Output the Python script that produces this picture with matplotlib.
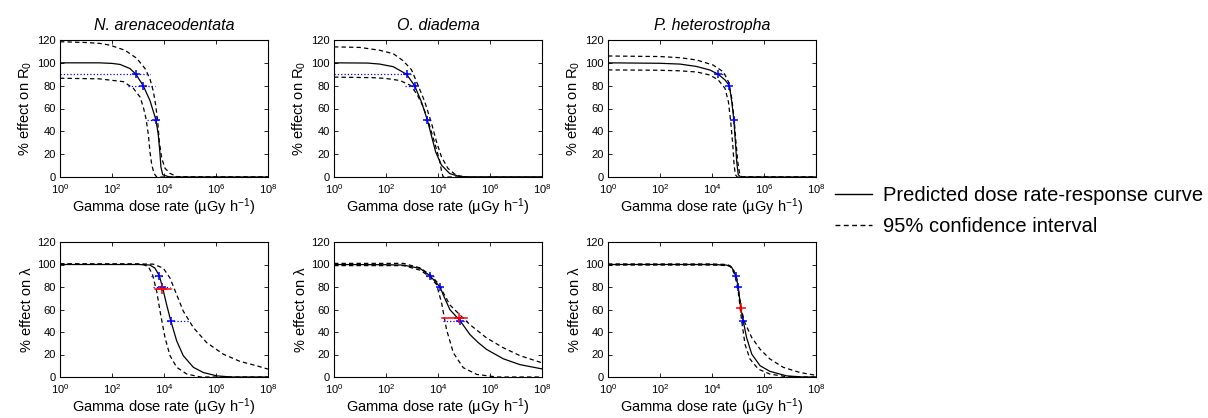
import matplotlib
matplotlib.use("Agg")
import matplotlib.pyplot as plt
from matplotlib.lines import Line2D
from matplotlib.ticker import NullLocator
import numpy as np

plt.rcParams['font.family'] = ['Liberation Sans', 'DejaVu Sans']
plt.rcParams['mathtext.fontset'] = 'custom'
plt.rcParams['mathtext.rm'] = 'Liberation Sans'
plt.rcParams['mathtext.it'] = 'Liberation Sans:italic'
plt.rcParams['mathtext.bf'] = 'Liberation Sans:bold'

species = ['N. arenaceodentata', 'O. diadema', 'P. heterostropha']
ylabels = ['% effect on R$_0$', '% effect on \u03bb']

# curves: (log10 dose rate, % effect)
# --- R0 row ---
na_r0_fit = [(0, 100), (1.5, 100), (2.0, 99.5), (2.31, 98.6), (2.69, 95), (2.92, 90), (3.2, 80),
             (3.46, 67), (3.69, 50), (3.78, 37), (3.84, 22), (3.88, 9), (3.95, 2), (4.2, 0), (8, 0)]
na_r0_up = [(0, 118.5), (1.0, 117.8), (1.54, 117), (1.92, 115.5), (2.5, 111), (2.95, 104), (3.27, 95),
            (3.46, 86), (3.59, 75), (3.68, 63), (3.76, 48), (3.82, 31), (3.91, 16.6), (4.04, 7.6),
            (4.23, 3.2), (4.49, 0.4), (5.0, 0), (8, 0)]
na_r0_lo = [(0, 86.5), (1.5, 86), (2.44, 83.5), (2.82, 77.7), (3.08, 70), (3.2, 61.6), (3.31, 51),
            (3.4, 36.8), (3.46, 22), (3.53, 10.5), (3.62, 3), (3.72, 0), (8, 0)]

od_r0_fit = [(0, 100), (1.3, 99.8), (1.76, 98.9), (2.28, 96.6), (2.79, 90), (3.1, 80), (3.36, 66),
             (3.59, 50), (3.74, 36.8), (3.91, 22), (4.13, 10.5), (4.45, 3), (4.83, 0.4), (5.3, 0), (8, 0)]
od_r0_up = [(0, 114), (1.0, 113.5), (1.76, 111), (2.28, 108), (2.65, 102), (2.98, 94), (3.23, 80.5),
            (3.49, 66), (3.74, 48), (3.94, 31), (4.13, 17.8), (4.38, 7.6), (4.7, 1.5), (5.1, 0), (8, 0)]
od_r0_lo = [(0, 87.5), (1.5, 87), (2.0, 86.3), (2.54, 84.5), (2.92, 80.5), (3.18, 73), (3.43, 61.6),
            (3.63, 48.4), (3.82, 34), (3.97, 22), (4.07, 13.4), (4.14, 4.6), (4.2, 0), (8, 0)]

ph_r0_fit = [(0, 100), (2.0, 99.6), (2.77, 98.9), (3.41, 96.8), (3.92, 93.7), (4.24, 90), (4.5, 85),
             (4.67, 80), (4.76, 66), (4.84, 50), (4.9, 31), (4.95, 13.4), (5.01, 2), (5.1, 0), (8, 0)]
ph_r0_up = [(0, 106), (2.0, 105.5), (2.77, 104.5), (3.41, 102.5), (4.05, 98), (4.44, 92), (4.63, 83.5),
            (4.76, 69), (4.85, 51), (4.92, 31), (4.99, 13.4), (5.07, 2), (5.15, 0), (8, 0)]
ph_r0_lo = [(0, 93.8), (2.0, 93.5), (2.77, 93), (3.41, 92), (3.92, 89.3), (4.24, 85), (4.5, 77.7),
            (4.63, 66), (4.72, 48.4), (4.8, 28), (4.85, 10.5), (4.9, 2), (4.97, 0), (8, 0)]

# --- lambda row ---
na_lam_fit = [(0, 100), (3.0, 100), (3.46, 99.5), (3.65, 96.8), (3.82, 90), (3.94, 80), (4.1, 64.4),
              (4.26, 50), (4.49, 32), (4.74, 19), (5.13, 8.6), (5.51, 4), (6.03, 1), (6.6, 0), (8, 0)]
na_lam_up = [(0, 100.5), (3.0, 100.5), (3.59, 100.3), (3.97, 96.8), (4.23, 88), (4.49, 73), (4.74, 58.6),
             (5.13, 43.9), (5.64, 30.6), (6.28, 20.3), (6.92, 13.9), (7.56, 10), (8, 7)]
na_lam_lo = [(0, 100.5), (3.0, 100.3), (3.2, 100), (3.4, 98), (3.56, 91), (3.72, 76), (3.87, 55.6),
             (4.04, 35), (4.23, 19), (4.49, 8.6), (4.87, 2.7), (5.4, 0), (8, 0)]

od_lam_fit = [(0, 100), (2.0, 99.8), (2.67, 99.5), (3.31, 96.5), (3.69, 90), (4.08, 80), (4.2, 73),
              (4.46, 59.8), (4.85, 50), (5.23, 37.7), (5.55, 30.5), (5.87, 24.5), (6.51, 16.2),
              (7.15, 11), (8, 7.2)]
od_lam_up = [(0, 101), (2.67, 101), (3.31, 97), (3.69, 91), (3.95, 84.7), (4.2, 75), (4.46, 64),
             (4.85, 55), (5.23, 46.5), (5.87, 34.7), (6.51, 26), (7.15, 19), (8, 12.6)]
od_lam_lo = [(0, 99), (2.67, 99), (3.31, 95), (3.69, 89), (3.95, 82), (4.14, 65.6), (4.33, 42),
             (4.59, 21.5), (4.97, 8.3), (5.49, 2.3), (6.26, 0), (8, 0)]

ph_lam_fit = [(0, 100), (4.0, 100), (4.56, 99.5), (4.76, 97.4), (4.92, 90), (5.01, 80), (5.1, 62),
              (5.2, 50), (5.33, 35), (5.53, 20.3), (5.85, 10), (6.23, 5), (6.87, 1), (7.5, 0), (8, 0)]
ph_lam_up = [(0, 100.5), (4.0, 100.5), (4.6, 100), (4.8, 97), (4.95, 88), (5.05, 72), (5.15, 58),
             (5.27, 48), (5.53, 35), (5.85, 24.7), (6.23, 16), (6.74, 8.6), (7.38, 4), (8, 1.5)]
ph_lam_lo = [(0, 99.5), (4.0, 99.5), (4.69, 99), (4.88, 91), (5.01, 76), (5.14, 50), (5.27, 29),
             (5.46, 16), (5.78, 7), (6.23, 2.6), (6.8, 0.5), (7.5, 0), (8, 0)]

# EC estimates (blue): (effect level, log10 EC, log10 lower, log10 upper)
na_r0_ec = [(90, 2.92, 0.0, 3.46), (80, 3.2, 2.63, 3.65), (50, 3.69, 3.33, 3.85)]
od_r0_ec = [(90, 2.79, 0.0, 2.98), (80, 3.1, 2.73, 3.24), (50, 3.59, 3.51, 3.7)]
ph_r0_ec = [(90, 4.24, 4.12, 4.5), (80, 4.67, 4.6, 4.72), (50, 4.84, 4.8, 4.88)]
na_lam_ec = [(90, 3.82, 3.49, 3.97), (80, 3.94, 3.59, 4.23), (50, 4.26, 4.1, 5.0)]
od_lam_ec = [(90, 3.69, 3.55, 3.85), (80, 4.08, 3.95, 4.2), (50, 4.85, 4.2, 5.17)]
ph_lam_ec = [(90, 4.92, 4.85, 4.98), (80, 5.01, 4.93, 5.06), (50, 5.2, 5.15, 5.24)]

# red estimates (lambda row only)
na_lam_red = (78.5, 3.94, 3.65, 4.26)
od_lam_red = (52.4, 4.8, 4.14, 5.1)
ph_lam_red = (61.5, 5.1, 5.07, 5.13)

rows = [
    [(na_r0_fit, na_r0_up, na_r0_lo, na_r0_ec, None),
     (od_r0_fit, od_r0_up, od_r0_lo, od_r0_ec, None),
     (ph_r0_fit, ph_r0_up, ph_r0_lo, ph_r0_ec, None)],
    [(na_lam_fit, na_lam_up, na_lam_lo, na_lam_ec, na_lam_red),
     (od_lam_fit, od_lam_up, od_lam_lo, od_lam_ec, od_lam_red),
     (ph_lam_fit, ph_lam_up, ph_lam_lo, ph_lam_ec, ph_lam_red)],
]

W, H = 1208, 418
fig = plt.figure(figsize=(W / 100, H / 100), dpi=100)

lefts = [60, 334, 608]
row_px = [(40, 177), (242, 377)]
dash = (0, (3.5, 2.5))


def curve(pts):
    a = np.array(pts, dtype=float)
    return 10 ** a[:, 0], a[:, 1]


for r, row in enumerate(rows):
    top, bot = row_px[r]
    for c, (fit, up, lo, ecs, red) in enumerate(row):
        ax = fig.add_axes([lefts[c] / W, (H - bot) / H, 208 / W, (bot - top) / H])
        ax.set_xscale('log')

        x, y = curve(up)
        ax.plot(x, y, color='black', lw=0.9, linestyle=dash)
        x, y = curve(lo)
        ax.plot(x, y, color='black', lw=0.9, linestyle=dash)
        x, y = curve(fit)
        ax.plot(x, y, color='black', lw=0.9)

        for lev, ec, lo_b, hi_b in ecs:
            ax.plot([10 ** lo_b, 10 ** hi_b], [lev, lev], color='blue', lw=0.9, linestyle=':')
            ax.plot(10 ** ec, lev, marker='+', color='blue', ms=6, mew=1.1)
        if red is not None:
            lev, ec, lo_b, hi_b = red
            ax.plot([10 ** lo_b, 10 ** hi_b], [lev, lev], color='red', lw=1.1)
            ax.plot(10 ** ec, lev, marker='+', color='red', ms=6.5, mew=1.1)

        ax.set_xlim(1, 1e8)
        ax.set_ylim(0, 120)
        ax.set_xticks([1e0, 1e2, 1e4, 1e6, 1e8])
        ax.xaxis.set_minor_locator(NullLocator())
        ax.set_yticks(range(0, 121, 20))
        ax.tick_params(direction='in', top=True, right=True, labelsize=8,
                       length=3, width=0.6)
        ax.tick_params(axis='y', pad=3)
        ax.tick_params(axis='x', pad=4)
        for s in ax.spines.values():
            s.set_linewidth(0.8)
        ax.set_xlabel('Gamma dose rate (\u00b5Gy h$^{-1}$)', fontsize=10.5, labelpad=0)
        ax.set_ylabel(ylabels[r], fontsize=10.5, labelpad=2)
        if r == 0:
            ax.set_title(species[c], fontsize=11.5, style='italic', pad=7)

handles = [Line2D([], [], color='black', lw=1.0),
           Line2D([], [], color='black', lw=1.0, linestyle=dash)]
fig.legend(handles, ['Predicted dose rate-response curve', '95% confidence interval'],
           loc='center left', bbox_to_anchor=(835 / W, (H - 211) / H), frameon=False,
           fontsize=14.5, handlelength=1.85, handletextpad=0.55, borderpad=0,
           borderaxespad=0, labelspacing=0.6)

fig.savefig('out.png', dpi=100)
